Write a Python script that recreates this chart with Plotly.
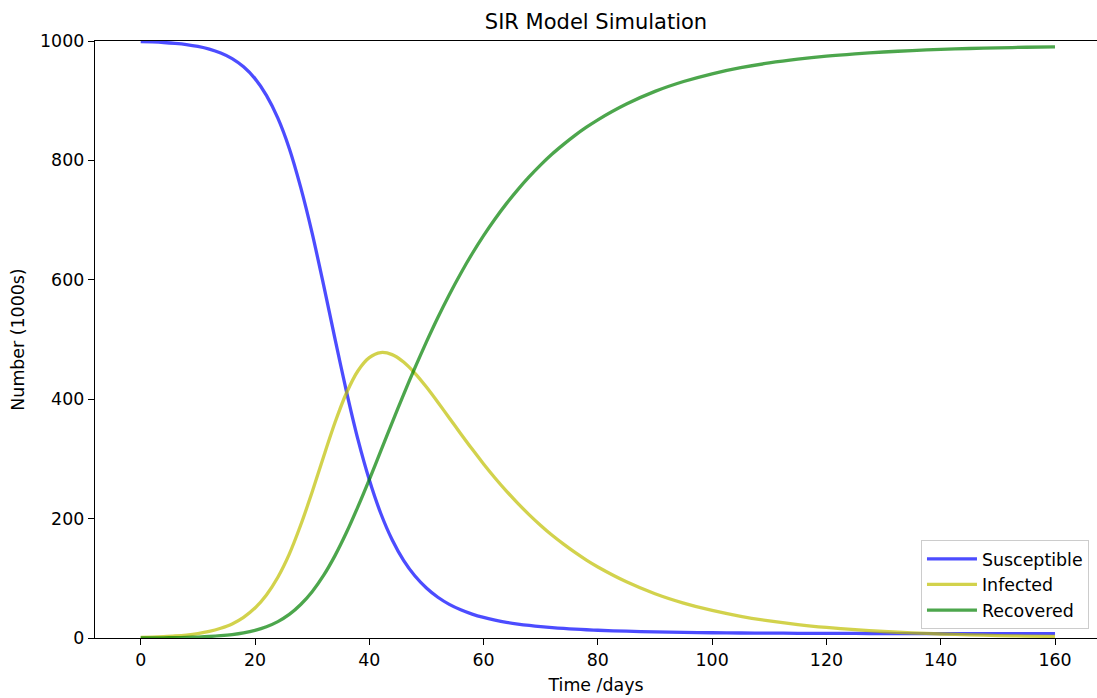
import plotly.graph_objects as go

# Time in days
days = [0, 2, 4, 6, 8, 10, 12, 14, 16, 18, 20, 22, 24, 26, 28, 30, 32, 34, 36, 38,
        40, 42, 44, 46, 48, 50, 52, 54, 56, 58, 60, 62, 64, 66, 68, 70, 72, 74, 76, 78,
        80, 85, 90, 95, 100, 105, 110, 115, 120, 125, 130, 135, 140, 145, 150, 155, 160]

susceptible = [999.0, 998.4, 997.5, 996.1, 994.1, 991.0, 986.5, 979.8, 970.6, 956.8,
               937.0, 908.9, 870.7, 820.0, 754.7, 678.1, 591.5, 501.1, 413.1, 333.0,
               265.0, 209.0, 164.6, 130.1, 103.8, 83.7, 68.2, 56.3, 47.2, 40.0,
               34.4, 30.0, 26.3, 23.4, 21.0, 19.0, 17.35, 16.0, 14.85, 13.86,
               13.0, 11.41, 10.2, 9.45, 8.8, 8.4, 8.1, 7.9, 7.7, 7.6,
               7.5, 7.44, 7.38, 7.33, 7.28, 7.25, 7.22]

infected = [1.0, 1.49, 2.22, 3.32, 4.94, 7.37, 10.99, 16.39, 23.6, 34.6,
            50.2, 72.2, 101.8, 140.5, 189.2, 244.4, 303.7, 360.9, 410.3, 447.3,
            469.6, 478.1, 474.7, 462.2, 443.3, 420.3, 394.9, 368.6, 342.2, 316.4,
            291.6, 268.1, 246.1, 225.5, 206.3, 188.5, 172.0, 157.2, 143.3, 130.5,
            119.0, 94.2, 74.2, 58.5, 46.1, 36.3, 28.6, 22.5, 17.7, 13.9,
            10.9, 8.56, 6.72, 5.28, 4.14, 3.25, 2.55]

recovered = [0.0, 0.12, 0.31, 0.58, 0.99, 1.6, 2.5, 3.85, 5.76, 8.63,
             12.8, 18.9, 27.5, 39.5, 56.1, 77.5, 104.8, 138.0, 176.6, 219.7,
             265.4, 312.9, 360.7, 407.7, 452.9, 496.0, 536.9, 575.1, 610.6, 643.6,
             674.0, 701.9, 727.6, 751.1, 772.7, 792.5, 810.6, 826.8, 841.9, 855.6,
             868.0, 894.4, 915.6, 932.1, 945.1, 955.3, 963.3, 969.6, 974.6, 978.5,
             981.6, 984.0, 985.9, 987.4, 988.6, 989.5, 990.2]

x_ticks = [0, 20, 40, 60, 80, 100, 120, 140, 160]
y_ticks = [0, 200, 400, 600, 800, 1000]

FONT = "DejaVu Sans"
fig = go.Figure()
series = [
    ("Susceptible", susceptible, "rgba(0,0,255,0.7)"),
    ("Infected", infected, "rgba(191,191,0,0.7)"),
    ("Recovered", recovered, "rgba(0,128,0,0.7)"),
]
for name, vals, col in series:
    fig.add_trace(go.Scatter(
        x=days, y=vals, mode="lines", name=name,
        line=dict(color=col, width=3.3, shape="spline", smoothing=0.8),
    ))

fig.update_layout(
    width=1097, height=698,
    margin=dict(l=95, r=0, t=41, b=60),
    paper_bgcolor="white", plot_bgcolor="white",
    font=dict(family=FONT, size=17, color="black"),
    title=dict(text="SIR Model Simulation", x=0.5, xref="paper", xanchor="center",
               y=1 - 22 / 698, yref="container", yanchor="middle",
               font=dict(family=FONT, size=21, color="black")),
    legend=dict(x=0.992, y=0.015, xanchor="right", yanchor="bottom",
                bgcolor="rgba(255,255,255,0.8)", bordercolor="#cccccc", borderwidth=1,
                itemwidth=50, tracegroupgap=0,
                font=dict(family=FONT, size=17.4)),
    showlegend=True,
)
fig.update_xaxes(
    range=[-8, 167.35], tickvals=x_ticks, ticktext=[str(v) for v in x_ticks],
    ticks="outside", ticklen=6, tickwidth=1.4, tickcolor="black",
    tickfont=dict(family=FONT, size=17.4),
    showline=True, linecolor="black", linewidth=1.4, mirror=True,
    showgrid=False, zeroline=False,
    title=dict(text="Time /days", font=dict(family=FONT, size=17.4), standoff=9),
)
fig.update_yaxes(
    range=[0, 1000], tickvals=y_ticks, ticktext=[str(v) for v in y_ticks],
    ticks="outside", ticklen=6, tickwidth=1.4, tickcolor="black",
    tickfont=dict(family=FONT, size=17.4),
    showline=True, linecolor="black", linewidth=1.4, mirror=False,
    showgrid=False, zeroline=False,
    title=dict(text="Number (1000s)", font=dict(family=FONT, size=17.4), standoff=10),
)

fig.write_html("out.html")
